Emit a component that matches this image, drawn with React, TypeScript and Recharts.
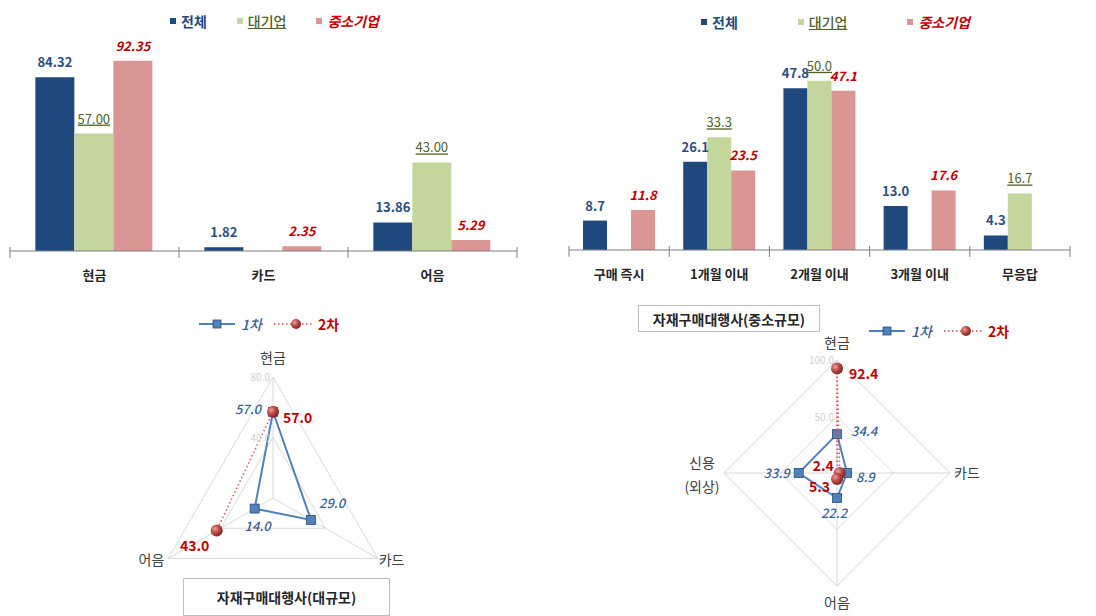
import React from 'react';
import {
  Bar,
  BarChart,
  LabelList,
  PolarAngleAxis,
  PolarGrid,
  PolarRadiusAxis,
  Radar,
  RadarChart,
  XAxis,
  YAxis,
} from 'recharts';

const FONT = "'Noto Sans CJK KR', 'Noto Sans', sans-serif";

// 결제 수단 (막대)
const payCategories = ['현금', '카드', '어음'];
const payTotal = [84.32, 1.82, 13.86];
const payLarge = [57.0, 0, 43.0];
const paySmall = [92.35, 2.35, 5.29];

// 결제 기간 (막대)
const periodCategories = ['구매 즉시', '1개월 이내', '2개월 이내', '3개월 이내', '무응답'];
const periodTotal = [8.7, 26.1, 47.8, 13.0, 4.3];
const periodLarge = [null, 33.3, 50.0, null, 16.7];
const periodSmall = [11.8, 23.5, 47.1, 17.6, null];

// 자재구매대행사(대규모) 레이더
const largeAxes = ['현금', '카드', '어음'];
const large1st = [57.0, 29.0, 14.0];
const large2nd = [57.0, null, 43.0];

// 자재구매대행사(중소규모) 레이더
const smallAxes = ['현금', '카드', '어음', '신용\n(외상)'];
const small1st = [34.4, 8.9, 22.2, 33.9];
const small2nd = [92.4, 2.4, 5.3, null];

const barLegend = ['전체', '대기업', '중소기업'];
const radarLegend = ['1차', '2차'];

const payData = payCategories.map((name, i) => ({
  name,
  total: payTotal[i],
  large: payLarge[i],
  small: paySmall[i],
}));
const periodData = periodCategories.map((name, i) => ({
  name,
  total: periodTotal[i],
  large: periodLarge[i],
  small: periodSmall[i],
}));
const largeData = largeAxes.map((axis, i) => ({ axis, first: large1st[i], second: large2nd[i] ?? 0 }));
const smallData = smallAxes.map((axis, i) => ({ axis, first: small1st[i], second: small2nd[i] ?? 0 }));

const NAVY = '#1f497d';
const GREEN = '#c3d69b';
const PINK = '#d99694';
const BLUE = '#4f81bd';
const RED = '#c0504d';

const labelStyles = {
  total: { fill: '#2a4e82', fontWeight: 700, fontStyle: 'normal', textDecoration: 'none' },
  large: { fill: '#4f6228', fontWeight: 400, fontStyle: 'normal', textDecoration: 'underline' },
  small: { fill: '#c00000', fontWeight: 700, fontStyle: 'italic', textDecoration: 'none' },
};

const makeBarLabel = (kind: keyof typeof labelStyles, digits: number) => (props: any) => {
  const vb = props.viewBox || {};
  const x = props.x ?? vb.x;
  const y = props.y ?? vb.y;
  const width = props.width ?? vb.width;
  const { value } = props;
  if (value == null || value === 0) return null;
  const s = labelStyles[kind];
  return (
    <text
      x={x + width / 2}
      y={y - 10}
      textAnchor="middle"
      fontFamily={FONT}
      fontSize={13}
      fill={s.fill}
      fontWeight={s.fontWeight}
      fontStyle={s.fontStyle}
      textDecoration={s.textDecoration}
    >
      {Number(value).toFixed(digits)}
    </text>
  );
};

const makeCategoryTick = (band: number, count: number) => (props: any) => {
  const { x, y, payload, index } = props;
  return (
    <g>
      <line x1={x - band / 2} x2={x - band / 2} y1={y - 6} y2={y + 5} stroke="#7f7f7f" />
      {index === count - 1 && (
        <line x1={x + band / 2} x2={x + band / 2} y1={y - 6} y2={y + 5} stroke="#7f7f7f" />
      )}
      <text x={x} y={y + 27} textAnchor="middle" fontFamily={FONT} fontSize={13} fontWeight={700} fill="#262626">
        {payload.value}
      </text>
    </g>
  );
};

function BarLegend({ left, top, gap }: { left: number; top: number; gap: number }) {
  const colors = [NAVY, GREEN, PINK];
  const text = [
    { color: NAVY, fontStyle: 'normal', textDecoration: 'none', fontWeight: 700 },
    { color: '#4f6228', fontStyle: 'normal', textDecoration: 'underline', fontWeight: 500 },
    { color: '#c00000', fontStyle: 'italic', textDecoration: 'none', fontWeight: 700 },
  ];
  return (
    <div style={{ position: 'absolute', left, top, display: 'flex', gap, alignItems: 'center', fontFamily: FONT }}>
      {barLegend.map((name, i) => (
        <div key={name} style={{ display: 'flex', alignItems: 'center' }}>
          <span style={{ width: 6, height: 6, background: colors[i], marginRight: 5, display: 'inline-block' }} />
          <span style={{ fontSize: 14, lineHeight: '18px', ...text[i] } as React.CSSProperties}>{name}</span>
        </div>
      ))}
    </div>
  );
}

function RadarLegend({ left, top }: { left: number; top: number }) {
  return (
    <div style={{ position: 'absolute', left, top, display: 'flex', alignItems: 'center', fontFamily: FONT, fontSize: 14 }}>
      <svg width={36} height={12}>
        <line x1={0} x2={36} y1={6} y2={6} stroke={BLUE} strokeWidth={2} />
        <rect x={14} y={2} width={8} height={8} fill={BLUE} stroke="#2c4d75" strokeWidth={0.8} />
      </svg>
      <span style={{ color: '#3a5f95', fontStyle: 'italic', fontWeight: 500, marginLeft: 6, marginRight: 12 }}>
        {radarLegend[0]}
      </span>
      <svg width={40} height={12}>
        <defs>
          <radialGradient id="sphereLegend" cx="35%" cy="35%" r="70%">
            <stop offset="0%" stopColor="#f0a09a" />
            <stop offset="45%" stopColor="#c0504d" />
            <stop offset="100%" stopColor="#7a1f1c" />
          </radialGradient>
        </defs>
        <line x1={0} x2={40} y1={6} y2={6} stroke={RED} strokeWidth={1.5} strokeDasharray="1.5 2.5" />
        <circle cx={22} cy={6} r={5} fill="url(#sphereLegend)" />
      </svg>
      <span style={{ color: '#c00000', fontWeight: 700, marginLeft: 4 }}>{radarLegend[1]}</span>
    </div>
  );
}

function TitleBox({ left, top, width, height, text }: { left: number; top: number; width: number; height: number; text: string }) {
  return (
    <div
      style={{
        position: 'absolute',
        left,
        top,
        width,
        height,
        boxSizing: 'border-box',
        border: '1px solid #bfbfbf',
        background: '#fff',
        display: 'flex',
        alignItems: 'center',
        justifyContent: 'center',
        fontFamily: FONT,
        fontWeight: 700,
        fontSize: 14,
        color: '#262626',
      }}
    >
      {text}
    </div>
  );
}

type Offset = [number, number, 'start' | 'middle' | 'end'];

// draws the series line (skipping empty axes), its markers and value labels
const makeRadarShape =
  (kind: 'first' | 'second', values: (number | null)[], offsets: Offset[]) =>
  (props: any) => {
    const pts = (props.points || [])
      .map((p: any, i: number) => ({ x: p.x, y: p.y, i }))
      .filter((p: any) => values[p.i] != null && Number.isFinite(p.x) && Number.isFinite(p.y));
    if (!pts.length) return <g />;
    let d = pts.map((p: any, k: number) => `${k ? 'L' : 'M'}${p.x},${p.y}`).join('');
    if (pts.length > 2) d += 'Z';
    const first = kind === 'first';
    return (
      <g>
        <path
          d={d}
          fill="none"
          stroke={first ? BLUE : '#d0605d'}
          strokeWidth={first ? 2 : 1.6}
          strokeDasharray={first ? undefined : '1.5 2.5'}
        />
        {pts.map((p: any) => {
          const [dx, dy, anchor] = offsets[p.i];
          return (
            <g key={p.i}>
              {first ? (
                <rect x={p.x - 4.5} y={p.y - 4.5} width={9} height={9} fill={BLUE} stroke="#2c4d75" strokeWidth={0.8} />
              ) : (
                <circle cx={p.x} cy={p.y} r={6} fill="url(#sphere)" />
              )}
              <text
                x={p.x + dx}
                y={p.y + dy}
                textAnchor={anchor}
                fontFamily={FONT}
                fontSize={first ? 13 : 14}
                fontStyle={first ? 'italic' : 'normal'}
                fontWeight={first ? 500 : 700}
                fill={first ? '#3a5f95' : '#c00000'}
              >
                {Number(values[p.i]).toFixed(1)}
              </text>
            </g>
          );
        })}
      </g>
    );
  };

const makeAngleTick = (shifts: [number, number][]) => (props: any) => {
  const { x, y, payload, index, textAnchor } = props;
  const [dx, dy] = shifts[index];
  const lines = String(payload.value).split('\n');
  if (lines.length > 1) {
    return (
      <text x={x + dx} y={y + dy} textAnchor="middle" fontFamily={FONT} fontSize={14} fill="#404040">
        {lines.map((l, i) => (
          <tspan key={l} x={x + dx} dy={i === 0 ? 0 : 24}>
            {l}
          </tspan>
        ))}
      </text>
    );
  }
  return (
    <text x={x + dx} y={y + dy} textAnchor={textAnchor} fontFamily={FONT} fontSize={14} fill="#404040">
      {payload.value}
    </text>
  );
};

const radiusTick = (props: any) => {
  const { x, y, payload } = props;
  if (!payload.value) return <g />;
  return (
    <text x={x - 3} y={y + 4} textAnchor="end" fontFamily={FONT} fontSize={10} fill="#d0d0d0">
      {Number(payload.value).toFixed(1)}
    </text>
  );
};

const SphereDefs = () => (
  <defs>
    <radialGradient id="sphere" cx="35%" cy="35%" r="70%">
      <stop offset="0%" stopColor="#f0a09a" />
      <stop offset="45%" stopColor="#c0504d" />
      <stop offset="100%" stopColor="#7a1f1c" />
    </radialGradient>
  </defs>
);

export default function App() {
  const payBand = (530 - 10 - 13) / payCategories.length;
  const periodBand = (548 - 21 - 26) / periodCategories.length;

  return (
    <div style={{ position: 'absolute', left: 0, top: 0, width: 1096, height: 616, background: '#fff', overflow: 'hidden' }}>
      <svg width={0} height={0} style={{ position: 'absolute' }}>
        <SphereDefs />
      </svg>

      {/* 결제 수단 */}
      <div style={{ position: 'absolute', left: 0, top: 0 }}>
        <BarChart
          width={530}
          height={290}
          data={payData}
          margin={{ top: 45, right: 13, bottom: 9, left: 10 }}
          barGap={0}
          barCategoryGap="15%"
        >
          <XAxis
            dataKey="name"
            axisLine={{ stroke: '#7f7f7f' }}
            tickLine={false}
            tickSize={0}
            height={30}
            interval={0}
            tick={makeCategoryTick(payBand, payCategories.length)}
          />
          <YAxis hide domain={[0, 100]} />
          <Bar dataKey="total" fill={NAVY} isAnimationActive={false}>
            <LabelList dataKey="total" content={makeBarLabel('total', 2)} />
          </Bar>
          <Bar dataKey="large" fill={GREEN} isAnimationActive={false}>
            <LabelList dataKey="large" content={makeBarLabel('large', 2)} />
          </Bar>
          <Bar dataKey="small" fill={PINK} isAnimationActive={false}>
            <LabelList dataKey="small" content={makeBarLabel('small', 2)} />
          </Bar>
        </BarChart>
      </div>
      <BarLegend left={170} top={12} gap={30} />

      {/* 결제 기간 */}
      <div style={{ position: 'absolute', left: 548, top: 0 }}>
        <BarChart
          width={548}
          height={290}
          data={periodData}
          margin={{ top: 47, right: 26, bottom: 10, left: 21 }}
          barGap={0}
          barCategoryGap="14%"
        >
          <XAxis
            dataKey="name"
            axisLine={{ stroke: '#7f7f7f' }}
            tickLine={false}
            tickSize={0}
            height={30}
            interval={0}
            tick={makeCategoryTick(periodBand, periodCategories.length)}
          />
          <YAxis hide domain={[0, 60]} />
          <Bar dataKey="total" fill={NAVY} isAnimationActive={false}>
            <LabelList dataKey="total" content={makeBarLabel('total', 1)} />
          </Bar>
          <Bar dataKey="large" fill={GREEN} isAnimationActive={false}>
            <LabelList dataKey="large" content={makeBarLabel('large', 1)} />
          </Bar>
          <Bar dataKey="small" fill={PINK} isAnimationActive={false}>
            <LabelList dataKey="small" content={makeBarLabel('small', 1)} />
          </Bar>
        </BarChart>
      </div>
      <BarLegend left={701} top={13} gap={60} />

      {/* 대규모 레이더 */}
      <RadarLegend left={199} top={314} />
      <div style={{ position: 'absolute', left: 123, top: 340 }}>
        <RadarChart width={300} height={240} data={largeData} cx={150} cy={158} outerRadius={121}>
          <PolarGrid gridType="polygon" stroke="#d9d9d9" />
          <PolarAngleAxis
            dataKey="axis"
            tickLine={false}
            axisLine={false}
            tick={makeAngleTick([
              [0, -6],
              [-6, 2],
              [3, 2],
            ])}
          />
          <PolarRadiusAxis angle={90} domain={[0, 80]} tickCount={3} axisLine={false} tick={radiusTick} />
          <Radar
            dataKey="first"
            dot={false}
            isAnimationActive={false}
            shape={makeRadarShape('first', large1st, [
              [-12, 2, 'end'],
              [8, -12, 'start'],
              [3, 22, 'middle'],
            ])}
          />
          <Radar
            dataKey="second"
            dot={false}
            isAnimationActive={false}
            shape={makeRadarShape('second', large2nd, [
              [10, 11, 'start'],
              [0, 0, 'start'],
              [-22, 20, 'middle'],
            ])}
          />
        </RadarChart>
      </div>
      <TitleBox left={183} top={578} width={207} height={38} text="자재구매대행사(대규모)" />

      {/* 중소규모 레이더 */}
      <TitleBox left={638} top={305} width={182} height={27} text="자재구매대행사(중소규모)" />
      <RadarLegend left={869} top={321} />
      <div style={{ position: 'absolute', left: 660, top: 330 }}>
        <RadarChart width={360} height={286} data={smallData} cx={177} cy={143} outerRadius={113}>
          <PolarGrid gridType="polygon" stroke="#d9d9d9" />
          <PolarAngleAxis
            dataKey="axis"
            tickLine={false}
            axisLine={false}
            tick={makeAngleTick([
              [0, -4],
              [-4, 5],
              [0, 14],
              [-14, -5],
            ])}
          />
          <PolarRadiusAxis angle={90} domain={[0, 100]} tickCount={3} axisLine={false} tick={radiusTick} />
          <Radar
            dataKey="first"
            dot={false}
            isAnimationActive={false}
            shape={makeRadarShape('first', small1st, [
              [14, 2, 'start'],
              [9, 9, 'start'],
              [-3, 20, 'middle'],
              [-9, 5, 'end'],
            ])}
          />
          <Radar
            dataKey="second"
            dot={false}
            isAnimationActive={false}
            shape={makeRadarShape('second', small2nd, [
              [12, 10, 'start'],
              [-6, -2, 'end'],
              [-7, 13, 'end'],
              [0, 0, 'start'],
            ])}
          />
        </RadarChart>
      </div>
    </div>
  );
}
